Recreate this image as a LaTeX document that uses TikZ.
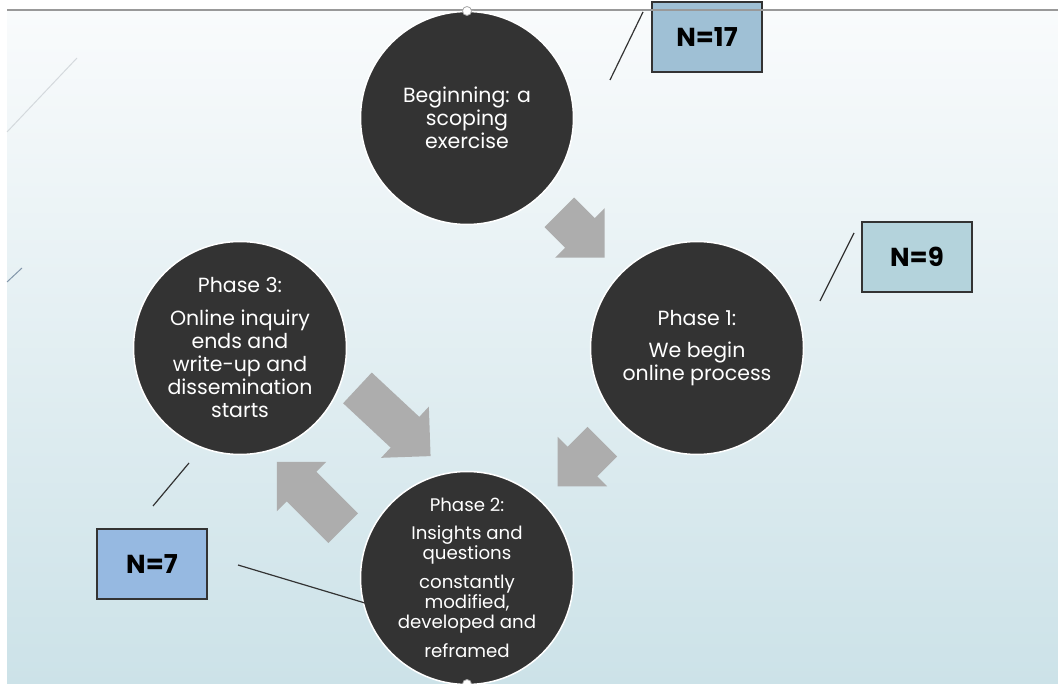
\documentclass[tikz,border=0pt]{standalone}
\usepackage{fontspec}
\setmainfont{Poppins}
\definecolor{circfill}{HTML}{333333}
\definecolor{arrowgray}{HTML}{ADADAD}
\definecolor{bgtop}{HTML}{F9FBFC}
\definecolor{bgbot}{HTML}{CCE2E8}
\definecolor{boxA}{HTML}{9FC0D5}
\definecolor{boxB}{HTML}{B4D3DC}
\definecolor{boxC}{HTML}{96B9E1}
\definecolor{linedark}{HTML}{333333}
\definecolor{faintA}{HTML}{D4D9DD}
\definecolor{faintB}{HTML}{8296AA}
\newcommand\BlockArrow[3]{%
  \pgfmathsetmacro\ttot{#3+35}%
  \fill[arrowgray, shift={#1}, rotate=#2]
    ({-\ttot/2},-21) -- ({-\ttot/2+#3},-21) -- ({-\ttot/2+#3},-35) -- ({\ttot/2},0)
    -- ({-\ttot/2+#3},35) -- ({-\ttot/2+#3},21) -- ({-\ttot/2},21) -- cycle;}
\begin{document}
\begin{tikzpicture}[x=1pt,y=-1pt,
  circ/.style={circle, fill=circfill, draw=white, line width=1.5pt, minimum size=213pt,
    inner sep=0pt, text=white, align=center, font=\fontsize{20.5}{23}\selectfont},
  circsmall/.style={circ, font=\fontsize{18.2}{20}\selectfont},
  nbox/.style={draw=linedark, line width=1.6pt, minimum width=110pt, minimum height=70pt,
    inner sep=0pt, font=\bfseries\fontsize{26}{30}\selectfont},
  lead/.style={draw=linedark, line width=1.2pt},
  handle/.style={circle, fill=white, draw=gray!70, line width=0.8pt, minimum size=9pt, inner sep=0pt}]
\useasboundingbox (0,0) rectangle (1058,684);
\fill[white] (0,0) rectangle (1058,684);
\shade[top color=bgtop, bottom color=bgbot] (7,11) rectangle (1058,684);
% faint left lines
\draw[color=faintA, line width=1pt] (77,58) -- (7,132);
\draw[color=faintB, line width=1pt] (22,268) -- (7,282);
% box N=17
\node[nbox, fill=boxA] (n17) at (707,37) {N=17};
\draw[color=black!40, line width=2pt] (7,10) -- (1058,10);
% circles
\node[circ] (top) at (467,118) {Beginning: a\\scoping\\exercise};
\node[circ] (right) at (697,348) {Phase 1:\\[9pt]We begin\\online process};
\node[circ] (left) at (240,348) {Phase 3:\\[10pt]Online inquiry\\ends and\\write-up and\\dissemination\\starts};
\node[circsmall] (bottom) at (467,578) {Phase 2:\\[8pt]Insights and\\questions\\[9pt]constantly\\modified,\\developed and\\[9pt]reframed};
\node[handle] (h1) at (467,11) {};
\node[handle] (h2) at (467,684) {};
% block arrows
\BlockArrow{(582,235)}{-45}{29}
\BlockArrow{(580,464)}{-135}{28}
\BlockArrow{(394,422)}{-43}{65}
\BlockArrow{(310,495)}{135}{59}
% boxes
\node[nbox, fill=boxB] (n9) at (917,257) {N=9};
\node[nbox, fill=boxC] (n7) at (152,564) {N=7};
% leader lines
\coordinate (a1) at (610,80); \coordinate (a2) at (643,12);
\coordinate (b1) at (820,301); \coordinate (b2) at (854,233);
\coordinate (c1) at (153,506); \coordinate (c2) at (189,463);
\coordinate (d1) at (238,565); \coordinate (d2) at (365,603);
\draw[lead] (a1) -- (a2);
\draw[lead] (b1) -- (b2);
\draw[lead] (c1) -- (c2);
\draw[lead] (d1) -- (d2);
\end{tikzpicture}
\end{document}
